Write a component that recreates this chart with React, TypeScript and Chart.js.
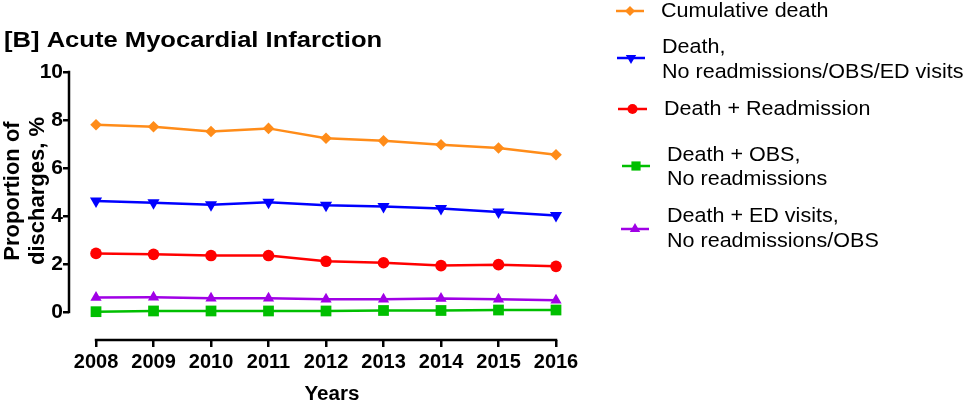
import React, { useEffect, useRef } from 'react';
import { Chart, registerables } from 'chart.js';

Chart.register(...registerables);

const years = [2008, 2009, 2010, 2011, 2012, 2013, 2014, 2015, 2016];
const cumulativeDeath = [7.8, 7.72, 7.52, 7.65, 7.24, 7.13, 6.97, 6.83, 6.55];
const deathNoVisits = [4.62, 4.55, 4.47, 4.57, 4.45, 4.39, 4.31, 4.16, 4.02];
const deathReadmission = [2.44, 2.4, 2.35, 2.35, 2.11, 2.05, 1.93, 1.97, 1.9];
const deathObs = [0.01, 0.04, 0.04, 0.04, 0.04, 0.06, 0.06, 0.08, 0.08];
const deathEd = [0.6, 0.61, 0.57, 0.57, 0.53, 0.53, 0.56, 0.53, 0.49];
const yTicks = [0, 2, 4, 6, 8, 10];

const chartTitle = '[B] Acute Myocardial Infarction';
const yTitle = ['Proportion of', 'discharges, %'];
const xTitle = 'Years';
const legendLabels = [
  ['Cumulative death'],
  ['Death,', 'No readmissions/OBS/ED visits'],
  ['Death + Readmission'],
  ['Death + OBS,', 'No readmissions'],
  ['Death + ED visits,', 'No readmissions/OBS'],
];

const FONT = '"Liberation Sans", Arial, Helvetica, sans-serif';

type SeriesStyle = { color: string; style: string; rotation: number; radius: number; legendRadius: number };
const seriesStyles: SeriesStyle[] = [
  { color: '#FF8C19', style: 'rectRot', rotation: 0, radius: 5.8, legendRadius: 5 },
  { color: '#0000FF', style: 'triangle', rotation: 180, radius: 7, legendRadius: 6 },
  { color: '#FF0000', style: 'circle', rotation: 0, radius: 5.8, legendRadius: 5 },
  { color: '#00BF00', style: 'rect', rotation: 0, radius: 7.6, legendRadius: 6.5 },
  { color: '#A000E6', style: 'triangle', rotation: 0, radius: 6.5, legendRadius: 6 },
];
const seriesData = [cumulativeDeath, deathNoVisits, deathReadmission, deathObs, deathEd];

// legend layout (marker line x1, x2, y ; text x ; baselines)
const legendLayout = [
  { x1: 616, x2: 644, y: 11, tx: 661, base: [17] },
  { x1: 617, x2: 645, y: 58, tx: 662, base: [53, 78] },
  { x1: 618, x2: 647, y: 109, tx: 664, base: [115] },
  { x1: 622, x2: 650, y: 166, tx: 667, base: [161, 185] },
  { x1: 621, x2: 649, y: 229, tx: 667, base: [222, 247] },
];

function drawMarker(ctx: CanvasRenderingContext2D, s: SeriesStyle, x: number, y: number) {
  const r = s.legendRadius;
  ctx.beginPath();
  if (s.style === 'circle') {
    ctx.arc(x, y, r, 0, Math.PI * 2);
  } else if (s.style === 'rectRot') {
    ctx.moveTo(x, y - r);
    ctx.lineTo(x + r, y);
    ctx.lineTo(x, y + r);
    ctx.lineTo(x - r, y);
    ctx.closePath();
  } else if (s.style === 'rect') {
    const h = r * Math.SQRT1_2;
    ctx.rect(x - h, y - h, 2 * h, 2 * h);
  } else if (s.style === 'triangle') {
    let rad = (s.rotation * Math.PI) / 180;
    ctx.moveTo(x + Math.sin(rad) * r, y - Math.cos(rad) * r);
    rad += (2 * Math.PI) / 3;
    ctx.lineTo(x + Math.sin(rad) * r, y - Math.cos(rad) * r);
    rad += (2 * Math.PI) / 3;
    ctx.lineTo(x + Math.sin(rad) * r, y - Math.cos(rad) * r);
    ctx.closePath();
  }
  ctx.fillStyle = s.color;
  ctx.fill();
}

function stretchedText(
  ctx: CanvasRenderingContext2D,
  text: string,
  x: number,
  y: number,
  font: string,
  sx: number,
  align: CanvasTextAlign = 'left'
) {
  ctx.save();
  ctx.translate(x, y);
  ctx.scale(sx, 1);
  ctx.font = font;
  ctx.fillStyle = '#000';
  ctx.textAlign = align;
  ctx.textBaseline = 'alphabetic';
  ctx.fillText(text, 0, 0);
  ctx.restore();
}

const decorations = {
  id: 'decorations',
  beforeDatasetsDraw(chart: any) {
    const { ctx, chartArea, scales } = chart;
    const xs = scales.x;
    const ys = scales.y;
    ctx.save();
    ctx.strokeStyle = '#000';
    ctx.lineWidth = 2.5;
    ctx.beginPath();
    ctx.moveTo(chartArea.left, ys.getPixelForValue(yTicks[yTicks.length - 1]) - 1.25);
    ctx.lineTo(chartArea.left, ys.getPixelForValue(yTicks[0]) + 1.25);
    ctx.stroke();
    ctx.beginPath();
    ctx.moveTo(xs.getPixelForValue(years[0]) - 1.25, chartArea.bottom);
    ctx.lineTo(xs.getPixelForValue(years[years.length - 1]) + 1.25, chartArea.bottom);
    ctx.stroke();
    ctx.restore();
  },
  afterDraw(chart: any) {
    const { ctx } = chart;
    ctx.save();
    // title
    stretchedText(ctx, chartTitle, 4, 47, `bold 21.5px ${FONT}`, 1.19);
    // y title
    const yBase = [18.5, 43.5];
    yTitle.forEach((line, i) => {
      ctx.save();
      ctx.translate(yBase[i], 191);
      ctx.rotate(-Math.PI / 2);
      ctx.font = `bold 22px ${FONT}`;
      ctx.fillStyle = '#000';
      ctx.textAlign = 'center';
      ctx.textBaseline = 'alphabetic';
      ctx.fillText(line, 0, 0);
      ctx.restore();
    });
    // x title
    stretchedText(ctx, xTitle, 332, 400, `bold 20px ${FONT}`, 1.03, 'center');
    // legend
    legendLayout.forEach((lay, i) => {
      const s = seriesStyles[i];
      ctx.save();
      ctx.strokeStyle = s.color;
      ctx.lineWidth = 2.5;
      ctx.beginPath();
      ctx.moveTo(lay.x1, lay.y);
      ctx.lineTo(lay.x2, lay.y);
      ctx.stroke();
      drawMarker(ctx, s, (lay.x1 + lay.x2) / 2, lay.y);
      ctx.restore();
      legendLabels[i].forEach((line, j) => {
        stretchedText(ctx, line, lay.tx, lay.base[j], `20.5px ${FONT}`, 1.05);
      });
    });
    ctx.restore();
  },
};

export default function App() {
  const canvasRef = useRef<HTMLCanvasElement | null>(null);

  useEffect(() => {
    const canvas = canvasRef.current;
    if (!canvas) return;
    const chart = new Chart(canvas, {
      type: 'line',
      data: {
        labels: years,
        datasets: seriesData.map((d, i) => {
          const s = seriesStyles[i];
          return {
            label: legendLabels[i].join(' '),
            data: d,
            borderColor: s.color,
            backgroundColor: s.color,
            borderWidth: 2.5,
            pointStyle: s.style as any,
            pointRotation: s.rotation,
            pointRadius: s.radius,
            pointBorderWidth: 0,
            pointBackgroundColor: s.color,
            pointBorderColor: s.color,
            tension: 0,
            clip: false as any,
          };
        }),
      },
      options: {
        responsive: false,
        maintainAspectRatio: false,
        devicePixelRatio: 1,
        animation: false,
        layout: { padding: { left: 9, top: 72, right: 418, bottom: 33 } },
        plugins: {
          legend: { display: false },
          tooltip: { enabled: false },
          title: { display: false },
        },
        scales: {
          x: {
            type: 'linear',
            min: 2007.53,
            max: 2016,
            afterBuildTicks: (s: any) => {
              s.ticks = years.map((v) => ({ value: v }));
            },
            afterFit: (s: any) => {
              s.height = 30;
            },
            ticks: {
              callback: (v: any) => String(v),
              font: { family: FONT, size: 20, weight: 'bold' },
              color: '#000',
              padding: 3,
              maxRotation: 0,
              autoSkip: false,
            },
            grid: {
              drawOnChartArea: false,
              drawTicks: true,
              tickLength: 7,
              lineWidth: 2.5,
              color: '#000',
            },
            border: { display: false },
          },
          y: {
            type: 'linear',
            min: -1.17,
            max: 10,
            afterBuildTicks: (s: any) => {
              s.ticks = yTicks.map((v) => ({ value: v }));
            },
            afterFit: (s: any) => {
              s.width = 60;
            },
            ticks: {
              font: { family: FONT, size: 21, weight: 'bold' },
              color: '#000',
              padding: 0,
            },
            grid: {
              drawOnChartArea: false,
              drawTicks: true,
              tickLength: 6,
              lineWidth: 2.5,
              color: '#000',
            },
            border: { display: false },
          },
        },
      },
      plugins: [decorations],
    } as any);
    return () => chart.destroy();
  }, []);

  return (
    <div style={{ position: 'absolute', left: 0, top: 0, width: 974, height: 403, background: '#fff' }}>
      <canvas ref={canvasRef} width={974} height={403} style={{ display: 'block' }} />
    </div>
  );
}
